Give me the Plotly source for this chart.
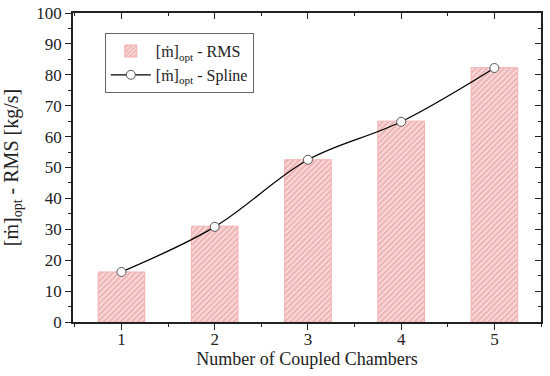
import plotly.graph_objects as go

chambers = [1, 2, 3, 4, 5]
rms_values = [16.2, 31.0, 52.5, 65.0, 82.3]
spline_values = [16.2, 30.8, 52.5, 64.8, 82.2]
x_ticks = [1, 2, 3, 4, 5]
y_ticks = list(range(0, 101, 10))

FONT = "Liberation Serif"

fig = go.Figure()
fig.add_trace(go.Bar(
    x=chambers, y=rms_values, width=0.5,
    name="[ṁ]<sub>opt</sub> - RMS",
    marker=dict(color="#f8d6d6", line=dict(color="#f2b0b0", width=1),
                pattern=dict(shape="/", fgcolor="#e08585", bgcolor="#f8d8d8", size=4, solidity=0.45)),
))
fig.add_trace(go.Scatter(
    x=chambers, y=spline_values, mode="lines+markers",
    name="[ṁ]<sub>opt</sub> - Spline",
    line=dict(color="black", width=1.3, shape="spline", smoothing=1.0),
    marker=dict(symbol="circle", size=9, color="white", line=dict(color="#555555", width=1)),
))
fig.add_trace(go.Scatter(x=[1], y=[0], xaxis="x2", yaxis="y2", showlegend=False,
                         mode="markers", marker=dict(opacity=0), hoverinfo="skip"))
fig.add_trace(go.Scatter(x=[1], y=[0], xaxis="x3", yaxis="y", showlegend=False,
                         mode="markers", marker=dict(opacity=0), hoverinfo="skip"))

tick_common = dict(tickwidth=1.2, tickcolor="#222", showgrid=False, zeroline=False,
                   showline=True, linecolor="#222", linewidth=1.5, automargin=False)

fig.update_layout(
    width=550, height=376,
    margin=dict(l=73, r=9, t=13, b=54),
    plot_bgcolor="white", paper_bgcolor="white",
    font=dict(family=FONT, size=16, color="#222"),
    bargap=0.5,
    legend=dict(x=0.068, y=0.935, xanchor="left", yanchor="top",
                bordercolor="#666", borderwidth=1, bgcolor="white", itemwidth=40,
                font=dict(family=FONT, size=16), tracegroupgap=0),
    xaxis=dict(range=[0.48, 5.5], tickvals=x_ticks, ticks="", ticklabelstandoff=1,
               title=dict(text="Number of Coupled Chambers", font=dict(family=FONT, size=18), standoff=0),
               tickfont=dict(family=FONT, size=17), **tick_common),
    xaxis3=dict(range=[0.48, 5.5], overlaying="x", side="bottom", tickvals=x_ticks, ticks="outside",
                ticklen=6, showticklabels=False,
                minor=dict(ticks="outside", dtick=0.5, tick0=0.5, ticklen=3, tickwidth=1.2, tickcolor="#222"),
                **tick_common),
    yaxis=dict(range=[0, 100], tickvals=y_ticks, ticks="outside", ticklen=6, ticklabeloverflow="allow",
               minor=dict(ticks="outside", dtick=5, ticklen=3, tickwidth=1.2, tickcolor="#222"),
               title=dict(text="[ṁ]<sub>opt</sub> - RMS [kg/s]", font=dict(family=FONT, size=20), standoff=24),
               tickfont=dict(family=FONT, size=17), **tick_common),
    xaxis2=dict(range=[0.48, 5.5], overlaying="x", side="top", tickvals=x_ticks, ticks="inside",
                ticklen=6, showticklabels=False,
                minor=dict(ticks="inside", dtick=0.5, tick0=0.5, ticklen=3, tickwidth=1.2, tickcolor="#222"),
                **tick_common),
    yaxis2=dict(range=[0, 100], overlaying="y", side="right", tickvals=y_ticks, ticks="inside",
                ticklen=6, showticklabels=False,
                minor=dict(ticks="inside", dtick=5, ticklen=3, tickwidth=1.2, tickcolor="#222"),
                **tick_common),
)

fig.write_html("out.html", config={"displayModeBar": False},
               post_script="document.body.style.margin='0';")
